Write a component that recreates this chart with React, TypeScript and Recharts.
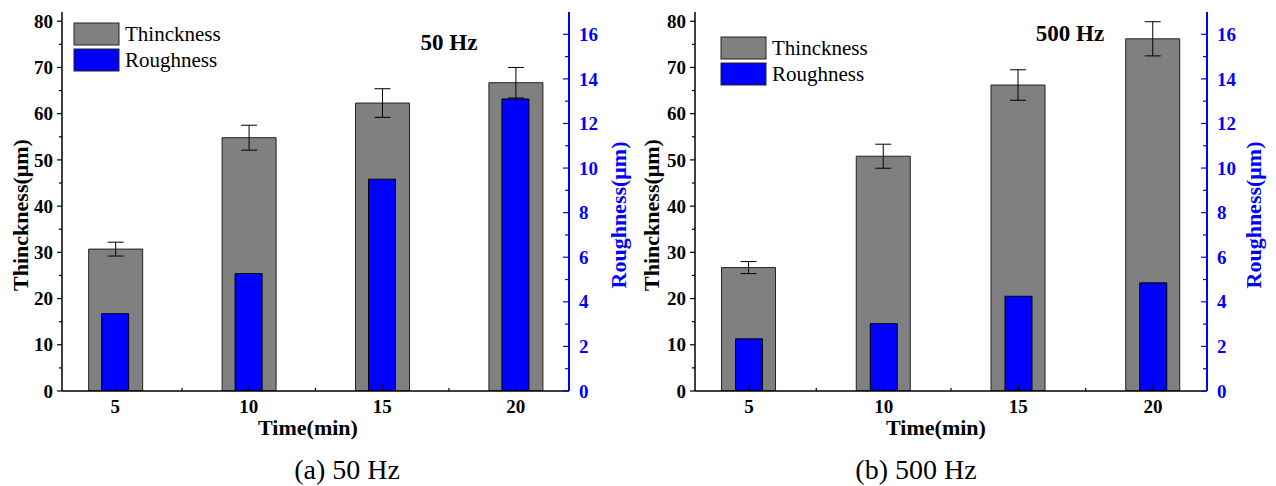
import React from "react"
import { ComposedChart, Bar, XAxis, YAxis, ErrorBar } from "recharts"

const times = [5, 10, 15, 20]

const thick50 = [30.7, 54.8, 62.3, 66.7]
const thick50Err = [1.5, 2.7, 3.1, 3.3]
const rough50 = [3.47, 5.27, 9.5, 13.1]

const thick500 = [26.7, 50.8, 66.2, 76.2]
const thick500Err = [1.3, 2.6, 3.3, 3.7]
const rough500 = [2.34, 3.02, 4.25, 4.85]

const xTicks = [5, 7.5, 10, 12.5, 15, 17.5, 20]
const leftTicks = [0, 5, 10, 15, 20, 25, 30, 35, 40, 45, 50, 55, 60, 65, 70, 75, 80]
const rightTicks = [0, 1, 2, 3, 4, 5, 6, 7, 8, 9, 10, 11, 12, 13, 14, 15, 16]

const SERIF = "'Liberation Serif', 'Times New Roman', serif"
const BLUE = "#0000ff"
const GREY = "#808080"

const BottomTick = ({ x, y, payload }: any) => {
  const major = payload.value % 5 === 0
  return (
    <g>
      <line x1={x} x2={x} y1={y} y2={y - (major ? 6 : 3)} stroke="#000" strokeWidth={1.2} />
      {major && (
        <text x={x} y={y + 22} textAnchor="middle" fontFamily={SERIF} fontWeight="bold" fontSize={19} fill="#000">
          {payload.value}
        </text>
      )}
    </g>
  )
}

const TopTick = ({ x, y, payload }: any) => {
  const major = payload.value % 5 === 0
  return <line x1={x} x2={x} y1={y} y2={y + (major ? 5 : 3)} stroke="#000" strokeWidth={1.2} />
}

const LeftTick = ({ x, y, payload }: any) => {
  const major = payload.value % 10 === 0
  return (
    <g>
      <line x1={x} x2={x - (major ? 5 : 3)} y1={y} y2={y} stroke="#000" strokeWidth={1.2} />
      {major && (
        <text x={x - 9} y={y} dy="0.35em" textAnchor="end" fontFamily={SERIF} fontWeight="bold" fontSize={19} fill="#000">
          {payload.value}
        </text>
      )}
    </g>
  )
}

const RightTick = ({ x, y, payload }: any) => {
  const major = payload.value % 2 === 0
  return (
    <g>
      <line x1={x} x2={x - (major ? 6 : 4)} y1={y} y2={y} stroke={BLUE} strokeWidth={1.2} />
      {major && (
        <text x={x + 10} y={y} dy="0.35em" textAnchor="start" fontFamily={SERIF} fontWeight="bold" fontSize={19} fill={BLUE}>
          {payload.value}
        </text>
      )}
    </g>
  )
}

interface PanelProps {
  left: number
  thick: number[]
  err: number[]
  rough: number[]
  leftW: number
  rightW: number
  legend: { x: number; y: number }
  note: { text: string; x: number; y: number }
  titleX: number[]
  timeX: number
  caption: string
  captionX: number
}

function Panel(p: PanelProps) {
  const data = times.map((t, i) => ({ time: t, thick: p.thick[i], err: p.err[i], rough: p.rough[i] }))
  return (
    <div style={{ position: "absolute", left: p.left, top: 0, width: 640, height: 486 }}>
      <ComposedChart width={640} height={486} data={data} margin={{ top: 12, right: 0, bottom: 0, left: 0 }}>
        <XAxis
          xAxisId="x"
          dataKey="time"
          type="number"
          domain={[3, 22]}
          ticks={xTicks}
          interval={0}
          tickSize={0}
          tickMargin={0}
          tick={<BottomTick />}
          height={95}
          axisLine={{ stroke: "#000", strokeWidth: 1.5 }}
          allowDataOverflow
        />
        <XAxis xAxisId="x2" dataKey="time" type="number" domain={[3, 22]} hide allowDataOverflow />
        <XAxis
          xAxisId="top"
          orientation="top"
          dataKey="time"
          type="number"
          domain={[3, 22]}
          ticks={xTicks}
          interval={0}
          tickSize={0}
          tickMargin={0}
          tick={<TopTick />}
          height={0}
          axisLine={{ stroke: "#000", strokeWidth: 1.5 }}
          allowDataOverflow
        />
        <YAxis
          yAxisId="left"
          domain={[0, 82]}
          ticks={leftTicks}
          interval={0}
          tickSize={0}
          tickMargin={0}
          tick={<LeftTick />}
          width={p.leftW}
          axisLine={{ stroke: "#000", strokeWidth: 1.5 }}
          allowDataOverflow
        />
        <YAxis
          yAxisId="right"
          orientation="right"
          domain={[0, 17]}
          ticks={rightTicks}
          interval={0}
          tickSize={0}
          tickMargin={0}
          tick={<RightTick />}
          width={p.rightW}
          axisLine={{ stroke: BLUE, strokeWidth: 2 }}
          allowDataOverflow
        />
        <Bar xAxisId="x" yAxisId="left" dataKey="thick" fill={GREY} stroke="#222" strokeWidth={1} barSize={54} isAnimationActive={false}>
          <ErrorBar dataKey="err" width={8} stroke="#000" strokeWidth={1} direction="y" />
        </Bar>
        <Bar xAxisId="x2" yAxisId="right" dataKey="rough" fill={BLUE} stroke="#000" strokeWidth={1} barSize={27} isAnimationActive={false} />
      </ComposedChart>
      <svg width={640} height={486} style={{ position: "absolute", left: 0, top: 0, pointerEvents: "none" }}>
        <rect x={p.legend.x} y={p.legend.y} width={45} height={22} fill={GREY} stroke="#222" />
        <rect x={p.legend.x} y={p.legend.y + 26} width={45} height={22} fill={BLUE} stroke="#222" />
        <text x={p.legend.x + 51} y={p.legend.y + 18} fontFamily={SERIF} fontSize={21} fill="#000">Thinckness</text>
        <text x={p.legend.x + 51} y={p.legend.y + 44} fontFamily={SERIF} fontSize={21} fill="#000">Roughness</text>
        <text x={p.note.x} y={p.note.y} textAnchor="middle" fontFamily={SERIF} fontWeight="bold" fontSize={23} fill="#000">
          {p.note.text}
        </text>
        <text
          transform={`translate(${p.titleX[0]}, 215) rotate(-90)`}
          textAnchor="middle"
          dominantBaseline="central"
          fontFamily={SERIF}
          fontWeight="bold"
          fontSize={22}
          fill="#000"
        >
          Thinckness(μm)
        </text>
        <text
          transform={`translate(${p.titleX[1]}, 215) rotate(-90)`}
          textAnchor="middle"
          dominantBaseline="central"
          fontFamily={SERIF}
          fontWeight="bold"
          fontSize={22}
          fill={BLUE}
        >
          Roughness(μm)
        </text>
        <text x={p.timeX} y={435} textAnchor="middle" fontFamily={SERIF} fontWeight="bold" fontSize={22} fill="#000">
          Time(min)
        </text>
        <text x={p.captionX} y={479} textAnchor="middle" fontFamily={SERIF} fontSize={28} fill="#000">
          {p.caption}
        </text>
      </svg>
    </div>
  )
}

export default function App() {
  return (
    <div style={{ position: "absolute", left: 0, top: 0, width: 1276, height: 486, background: "#fff" }}>
      <Panel
        left={0}
        thick={thick50}
        err={thick50Err}
        rough={rough50}
        leftW={62}
        rightW={71}
        legend={{ x: 74, y: 23 }}
        note={{ text: "50 Hz", x: 449, y: 50 }}
        titleX={[20, 618]}
        timeX={308}
        caption="(a) 50 Hz"
        captionX={347}
      />
      <Panel
        left={636}
        thick={thick500}
        err={thick500Err}
        rough={rough500}
        leftW={59}
        rightW={69}
        legend={{ x: 85, y: 37 }}
        note={{ text: "500 Hz", x: 434, y: 41 }}
        titleX={[15, 617]}
        timeX={300}
        caption="(b) 500 Hz"
        captionX={280}
      />
    </div>
  )
}
